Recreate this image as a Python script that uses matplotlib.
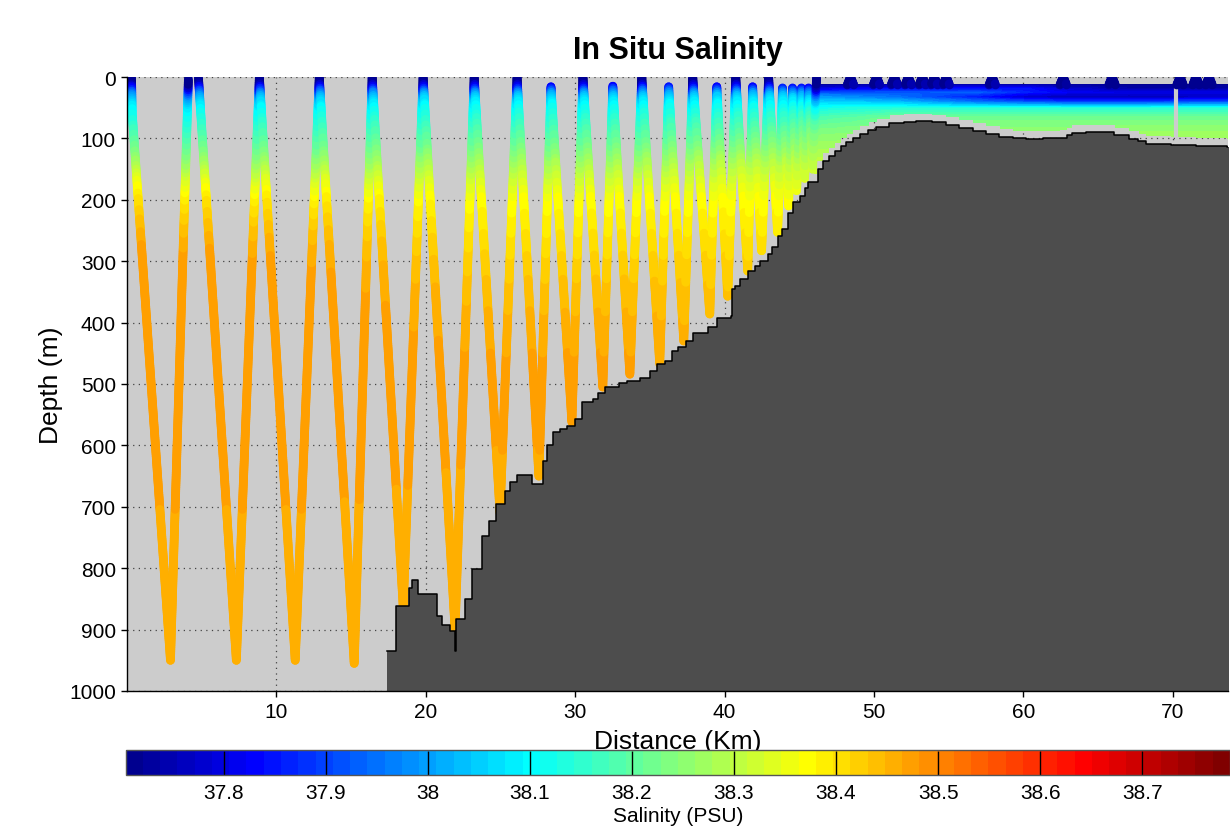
import numpy as np
import matplotlib
matplotlib.use("Agg")
import matplotlib.pyplot as plt
from matplotlib.collections import LineCollection
from matplotlib.colors import Normalize, ListedColormap

plt.rcParams['font.family'] = ['Liberation Sans', 'DejaVu Sans']

# ---------------- data ----------------
# glider turning points (distance km, depth m); nan = break in the track
path_km = [0.3, 0.35, 2.91, 4.11, np.nan,
           4.78, 7.32, 8.86, 11.26, 12.87, 15.21, 16.41, 18.49, 19.82, 21.96,
           23.24, 24.97, 26.11, 27.57, 28.38, 29.78, 30.52, 31.85, 32.52, 33.66,
           34.46, 35.66, 36.26, 37.27, 37.87, 39.01, 39.48, 40.21, 40.75, 41.55,
           41.88, 42.48, 42.95, 43.55, 43.88, 44.28, 44.55, 44.82, 45.15, 45.36,
           45.62, 45.89, 46.16]
path_depth = [0, 60, 950, 3, np.nan,
              0, 950, 0, 950, 0, 955, 0, 863, 0, 899,
              0, 710, 0, 650, 16, 562, 0, 505, 15, 484,
              0, 467, 16, 430, 0, 386, 16, 357, 0, 316,
              16, 283, 0, 253, 18, 210, 18, 185, 18, 165,
              18, 150, 0]

# surfacing positions of the glider over the shelf (km)
surface_km = [48.43, 50.17, 51.37, 52.30, 53.24, 54.04, 54.84, 57.92,
              62.67, 65.94, 70.49, 71.56, 72.43]
# data gaps in the shelf section (km)
gap_km = [70.25]

# bathymetry (step profile)
bathy_km = [17.41, 18.01, 18.88, 19.08, 19.49, 20.76, 21.09, 21.62, 21.96, 22.04,
            22.60, 23.08, 23.78, 24.24, 24.70, 25.30, 25.64, 26.10, 27.10, 27.85,
            28.11, 28.51, 28.98, 29.45, 29.98, 30.45, 31.19, 31.52, 31.99, 32.92,
            33.46, 34.33, 35.00, 35.47, 36.00, 36.47, 36.87, 37.40, 37.87, 38.87,
            39.48, 40.41, 40.48, 40.68, 41.01, 41.55, 42.01, 42.35, 42.88, 43.15,
            43.55, 43.82, 44.22, 44.55, 45.02, 45.36, 45.56, 46.23, 46.56, 47.00,
            47.37, 47.80, 48.16, 48.60, 49.04, 49.60, 50.16, 51.04, 52.00, 52.84,
            53.90, 54.85, 55.70, 56.60, 57.50, 58.40, 59.30, 60.20, 61.30, 62.40,
            62.90, 63.27, 64.20, 65.10, 66.10, 67.10, 67.70, 68.20, 69.90, 71.56,
            73.64, 73.80]
bathy_depth = [935, 861, 832, 819, 842, 878, 893, 902, 935, 883,
               850, 801, 748, 723, 695, 675, 660, 648, 663, 625,
               600, 578, 573, 569, 557, 530, 524, 515, 505, 498,
               495, 491, 479, 467, 462, 446, 440, 430, 417, 407,
               393, 389, 345, 340, 329, 316, 308, 300, 288, 277,
               259, 248, 221, 204, 194, 181, 171, 150, 137, 128,
               120, 112, 106, 99, 93, 86, 81, 75, 73, 72,
               74, 78, 83, 88, 93, 98, 100, 101, 100, 99,
               95, 91, 90, 90, 95, 101, 105, 109, 111, 112,
               114, 114]

# salinity field (PSU) at stations along the section
field_km = [0, 12, 24, 34, 44, 46.2, 51.7, 57.0, 60.4, 63.1, 67.1, 73.8]
field_depth = [0, 10, 18, 25, 32, 40, 50, 65, 85, 110, 140, 170, 200, 240, 280,
               350, 450, 600, 800, 1000]
sal_00km = [37.70, 37.71, 37.82, 37.92, 38.00, 38.05, 38.09, 38.12, 38.16, 38.21,
            38.27, 38.35, 38.40, 38.44, 38.47, 38.48, 38.48, 38.47, 38.46, 38.455]
sal_12km = [37.70, 37.72, 37.84, 37.95, 38.02, 38.06, 38.10, 38.13, 38.17, 38.21,
            38.27, 38.34, 38.39, 38.43, 38.46, 38.48, 38.48, 38.47, 38.46, 38.455]
sal_24km = [37.70, 37.72, 37.84, 37.96, 38.04, 38.08, 38.11, 38.14, 38.18, 38.22,
            38.28, 38.33, 38.37, 38.39, 38.41, 38.44, 38.465, 38.465, 38.46, 38.455]
sal_34km = [37.70, 37.72, 37.85, 37.97, 38.04, 38.08, 38.11, 38.14, 38.18, 38.22,
            38.28, 38.33, 38.37, 38.39, 38.41, 38.44, 38.465, 38.465, 38.46, 38.455]
sal_44km = [37.70, 37.72, 37.84, 37.96, 38.04, 38.08, 38.11, 38.15, 38.19, 38.24,
            38.30, 38.34, 38.37, 38.39, 38.41, 38.43, 38.45, 38.45, 38.45, 38.45]
sal_46km = [37.70, 37.71, 37.80, 37.92, 38.00, 38.06, 38.12, 38.18, 38.23, 38.27,
            38.31, 38.34, 38.37, 38.39, 38.41, 38.43, 38.45, 38.45, 38.45, 38.45]
sal_52km = [37.70, 37.71, 37.84, 37.92, 37.95, 38.03, 38.14, 38.22, 38.25, 38.28,
            38.30, 38.30, 38.30, 38.30, 38.30, 38.30, 38.30, 38.30, 38.30, 38.30]
sal_57km = [37.70, 37.71, 37.84, 37.93, 37.86, 37.95, 38.14, 38.22, 38.25, 38.27,
            38.28, 38.28, 38.28, 38.28, 38.28, 38.28, 38.28, 38.28, 38.28, 38.28]
sal_60km = [37.70, 37.72, 37.84, 37.86, 37.78, 37.92, 38.14, 38.22, 38.25, 38.27,
            38.28, 38.28, 38.28, 38.28, 38.28, 38.28, 38.28, 38.28, 38.28, 38.28]
sal_63km = [37.70, 37.71, 37.78, 37.82, 37.76, 37.90, 38.14, 38.22, 38.25, 38.27,
            38.28, 38.28, 38.28, 38.28, 38.28, 38.28, 38.28, 38.28, 38.28, 38.28]
sal_67km = [37.70, 37.71, 37.74, 37.80, 37.76, 37.90, 38.14, 38.22, 38.26, 38.28,
            38.28, 38.28, 38.28, 38.28, 38.28, 38.28, 38.28, 38.28, 38.28, 38.28]
sal_74km = [37.70, 37.71, 37.74, 37.80, 37.78, 37.92, 38.14, 38.22, 38.26, 38.28,
            38.28, 38.28, 38.28, 38.28, 38.28, 38.28, 38.28, 38.28, 38.28, 38.28]
field_cols = [sal_00km, sal_12km, sal_24km, sal_34km, sal_44km, sal_46km,
              sal_52km, sal_57km, sal_60km, sal_63km, sal_67km, sal_74km]

cbar_ticks = [37.8, 37.9, 38.0, 38.1, 38.2, 38.3, 38.4, 38.5, 38.6, 38.7]
cbar_ticklabels = ['37.8', '37.9', '38', '38.1', '38.2', '38.3', '38.4', '38.5', '38.6', '38.7']
sal_min, sal_max = 37.704, 38.786


# ---------------- helpers ----------------
def matlab_jet(m=64):
    n = int(np.ceil(m / 4))
    u = np.concatenate([np.arange(1, n + 1) / n, np.ones(n - 1), np.arange(n, 0, -1) / n])
    g = int(np.ceil(n / 2)) - (1 if m % 4 == 1 else 0) + np.arange(1, len(u) + 1)
    r = g + n
    b = g - n
    J = np.zeros((m, 3))
    rr = r[r <= m]
    gg = g[g <= m]
    bb = b[b >= 1]
    J[rr - 1, 0] = u[:len(rr)]
    J[gg - 1, 1] = u[:len(gg)]
    J[bb - 1, 2] = u[len(u) - len(bb):]
    return ListedColormap(J)


fkm = np.array(field_km, float)
fdep = np.array(field_depth, float)
table = np.array(field_cols, float)  # (ncol, ndepth)


def salinity_at(k, d):
    k = np.atleast_1d(np.asarray(k, float))
    d = np.atleast_1d(np.asarray(d, float))
    colv = np.array([np.interp(d, fdep, c) for c in table])  # (ncol, n)
    idx = np.clip(np.searchsorted(fkm, k) - 1, 0, len(fkm) - 2)
    t = np.clip((k - fkm[idx]) / (fkm[idx + 1] - fkm[idx]), 0, 1)
    n = np.arange(len(k))
    return colv[idx, n] * (1 - t) + colv[idx + 1, n] * t


bk = np.array(bathy_km, float)
bd = np.array(bathy_depth, float)


def bathy_at(k):
    i = np.searchsorted(bk, k, side='right') - 1
    return np.where(i < 0, 1000.0, bd[np.clip(i, 0, len(bd) - 1)])


def track_segments(kms, deps, step=3.0):
    segs, vals = [], []
    for i in range(len(kms) - 1):
        k0, d0, k1, d1 = kms[i], deps[i], kms[i + 1], deps[i + 1]
        if np.isnan(k0) or np.isnan(k1):
            continue
        n = max(2, int(abs(d1 - d0) / step) + 2)
        kk = np.linspace(k0, k1, n)
        dd = np.linspace(d0, d1, n)
        pts = np.column_stack([kk, dd])
        segs.extend(np.stack([pts[:-1], pts[1:]], axis=1))
        vals.extend(salinity_at((kk[:-1] + kk[1:]) / 2, (dd[:-1] + dd[1:]) / 2))
    return np.array(segs), np.array(vals)


# ---------------- figure ----------------
cmap = matlab_jet(64)
norm = Normalize(sal_min, sal_max)

fig = plt.figure(figsize=(12.30, 8.37), dpi=100)
ax = fig.add_axes([127 / 1230, 1 - 692 / 837, 1101 / 1230, 614 / 837])
ax.set_facecolor('#cccccc')
ax.set_xlim(0, 73.7)
ax.set_ylim(1000, 0)

# shelf section (dense yos rendered as a field)
gk = np.arange(46.0, 73.85, 0.08)
gd = np.arange(0, 170, 1.0)
KK, DD = np.meshgrid(gk, gd)
S = salinity_at(KK.ravel(), DD.ravel()).reshape(KK.shape)
mask = (DD < 12) | (DD > bathy_at(KK) - 13)
S = np.ma.array(S, mask=mask)
ax.pcolormesh(KK, DD, S, cmap=cmap, norm=norm, shading='nearest', zorder=2,
              rasterized=True)
for g in gap_km:
    ax.vlines(g, 14, float(bathy_at(g)) - 13, color='#cccccc', lw=3, zorder=2.1)

# glider track
segs, vals = track_segments(path_km, path_depth)
lc = LineCollection(segs, cmap=cmap, norm=norm, linewidths=6.3, capstyle='round',
                    joinstyle='round', zorder=2.5)
lc.set_array(vals)
ax.add_collection(lc)

# surfacing domes over the shelf
bk_list, bd_list = [], []
for s in surface_km:
    bk_list += [s - 0.22, s, s + 0.22, np.nan]
    bd_list += [13, 0, 13, np.nan]
segs2, vals2 = track_segments(bk_list, bd_list, step=2.0)
lc2 = LineCollection(segs2, cmap=cmap, norm=norm, linewidths=6.3, capstyle='round',
                     joinstyle='round', zorder=2.6)
lc2.set_array(vals2)
ax.add_collection(lc2)

# bathymetry
ax.fill_between(bk, bd, 1000, step='post', color='#4d4d4d', lw=0, zorder=3)
ax.step(bk, bd, where='post', color='black', lw=1.1, zorder=3.2)

# axes styling
ax.set_xticks([10, 20, 30, 40, 50, 60, 70])
ax.set_yticks(np.arange(0, 1001, 100))
ax.grid(True, linestyle=(0, (1, 3.5)), color='#444444', lw=0.9)
ax.set_axisbelow(True)
for sp in ['top', 'right']:
    ax.spines[sp].set_visible(False)
for sp in ['left', 'bottom']:
    ax.spines[sp].set_linewidth(1.0)
    ax.spines[sp].set_zorder(4)
ax.tick_params(direction='out', length=4, width=1, labelsize=15, pad=4)
ax.set_title('In Situ Salinity', fontsize=22, fontweight='bold', pad=14)
ax.set_xlabel('Distance (Km)', fontsize=19)
ax.set_ylabel('Depth (m)', fontsize=19)
ax.xaxis.set_label_coords(0.5, -0.062)
ax.yaxis.set_label_coords(-0.058, 0.5)

# colorbar
cax = fig.add_axes([125.7 / 1230, 1 - 775.7 / 837, (1230 - 125.7) / 1230, 24.5 / 837])
cb = fig.colorbar(plt.cm.ScalarMappable(norm=norm, cmap=cmap), cax=cax,
                  orientation='horizontal')
cb.set_ticks(cbar_ticks)
cb.set_ticklabels(cbar_ticklabels)
cb.ax.tick_params(direction='in', length=17.6, width=1, color='black', labelsize=15, pad=6)
cb.outline.set_edgecolor('#555555')
cb.outline.set_linewidth(1)
cb.set_label('Salinity (PSU)', fontsize=15, labelpad=3)

fig.savefig('out.png', dpi=100)
